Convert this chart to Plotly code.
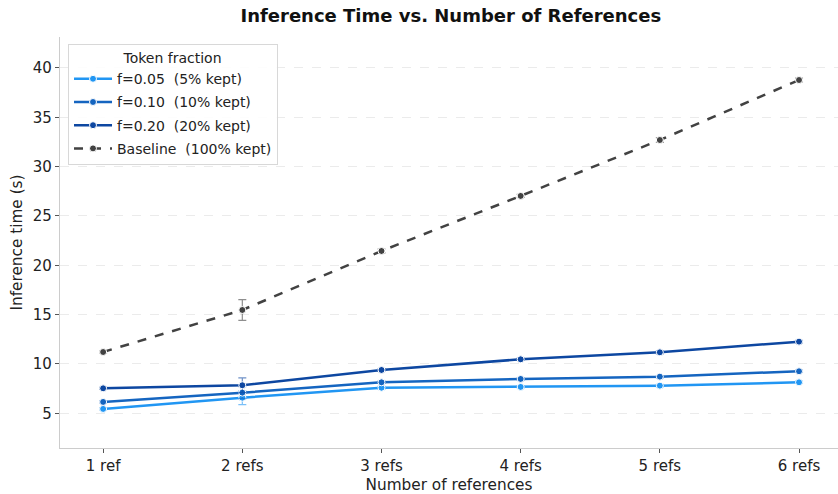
import plotly.graph_objects as go

categories = ["1 ref", "2 refs", "3 refs", "4 refs", "5 refs", "6 refs"]
f005 = [5.44, 6.58, 7.59, 7.67, 7.80, 8.14]
f005_err = [0.1, 0.7, 0.15, 0.1, 0.12, 0.12]
f010 = [6.15, 7.09, 8.14, 8.48, 8.71, 9.26]
f010_err = [0.1, 0.6, 0.12, 0.12, 0.12, 0.12]
f020 = [7.53, 7.84, 9.39, 10.47, 11.18, 12.26]
f020_err = [0.1, 0.75, 0.12, 0.12, 0.15, 0.12]
baseline = [11.21, 15.47, 21.45, 27.03, 32.70, 38.78]
baseline_err = [0.1, 1.05, 0.2, 0.15, 0.25, 0.2]

series = [
    ("f=0.05  (5% kept)", f005, f005_err, "#2196F3", "rgba(33,150,243,0.6)", "solid"),
    ("f=0.10  (10% kept)", f010, f010_err, "#1565C0", "rgba(21,101,192,0.6)", "solid"),
    ("f=0.20  (20% kept)", f020, f020_err, "#0D47A1", "rgba(13,71,161,0.6)", "solid"),
    ("Baseline  (100% kept)", baseline, baseline_err, "#424242", "rgba(66,66,66,0.6)", "dash"),
]

fig = go.Figure()
for i, (name, vals, err, color, ecolor, dash) in enumerate(series):
    fig.add_trace(go.Scatter(
        x=categories, y=vals, name=name, mode="lines+markers", legendgroup=f"g{i}",
        line=dict(color=color, width=2.5, dash=dash),
        marker=dict(color=color, size=7, line=dict(color="white", width=1)),
        error_y=dict(type="data", array=err, visible=True, color=ecolor, thickness=1.2, width=4),
    ))

fig.update_layout(
    width=838, height=494,
    margin=dict(l=60, r=0, t=37, b=46),
    paper_bgcolor="white", plot_bgcolor="white",
    font=dict(family="DejaVu Sans", size=15, color="#222"),
    title=dict(text="<b>Inference Time vs. Number of References</b>", x=0.538, xanchor="center",
               y=0.968, yanchor="middle", font=dict(size=18, color="#111")),
    showlegend=True,
    legend=dict(
        x=0.0103, y=0.983, xanchor="left", yanchor="top",
        bgcolor="rgba(255,255,255,0.9)", bordercolor="#d8d8d8", borderwidth=1,
        title=dict(text="Token fraction", side="top center", font=dict(size=14)),
        font=dict(size=14), tracegroupgap=2, itemwidth=38,
    ),
    xaxis=dict(
        type="category", range=[-0.31, 5.28],
        showgrid=False, showline=True, linecolor="#cccccc", linewidth=1.2,
        ticks="outside", ticklen=4, tickcolor="#555",
        tickfont=dict(size=15),
        title=dict(text="Number of references", font=dict(size=15.3), standoff=7),
        zeroline=False,
    ),
    yaxis=dict(
        range=[1.48, 43.14], tickvals=[5, 10, 15, 20, 25, 30, 35, 40],
        showgrid=True, gridcolor="#ebebeb", griddash="dash", gridwidth=1,
        showline=True, linecolor="#cccccc", linewidth=1.2,
        ticks="outside", ticklen=4, tickcolor="#555",
        tickfont=dict(size=15),
        title=dict(text="Inference time (s)", font=dict(size=15.3), standoff=6),
        zeroline=False,
    ),
)

fig.write_html("out.html", config={"displayModeBar": False},
               post_script="document.body.style.margin='0';document.body.style.overflow='hidden';")
